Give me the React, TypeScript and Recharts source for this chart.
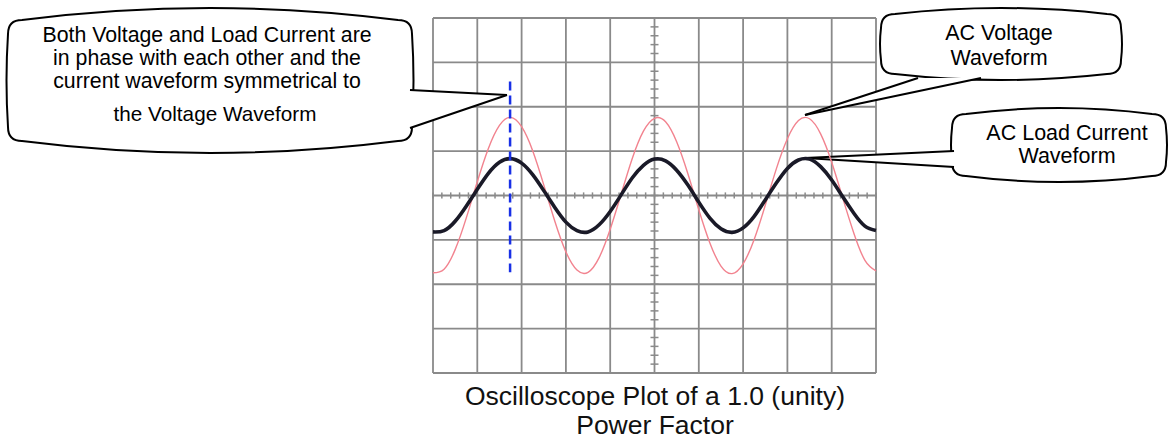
import React from 'react';
import {
  LineChart,
  Line,
  XAxis,
  YAxis,
  CartesianGrid,
  ReferenceLine,
  Customized,
} from 'recharts';

// time axis, in screen divisions (10 across)
const divs = [
  0, 0.25, 0.5, 0.75, 1, 1.25, 1.5, 1.75, 2, 2.25, 2.5, 2.75, 3, 3.25, 3.5, 3.75, 4, 4.25, 4.5, 4.75, 5,
  5.25, 5.5, 5.75, 6, 6.25, 6.5, 6.75, 7, 7.25, 7.5, 7.75, 8, 8.25, 8.5, 8.75, 9, 9.25, 9.5, 9.75, 10,
];

// pink trace, divisions from centre line
const voltage = [
  -1.74, -1.66, -1.22, -0.51, 0.31, 1.06, 1.58, 1.76, 1.55, 1.01, 0.24, -0.58, -1.27, -1.68, -1.73, -1.4,
  -0.76, 0.04, 0.84, 1.45, 1.74, 1.66, 1.21, 0.5, -0.32, -1.07, -1.59, -1.76, -1.54, -0.99, -0.22, 0.6,
  1.28, 1.69, 1.73, 1.39, 0.75, -0.06, -0.85, -1.46, -1.7,
];

// dark trace
const current = [
  -0.82, -0.79, -0.58, -0.24, 0.14, 0.5, 0.75, 0.83, 0.73, 0.47, 0.11, -0.27, -0.6, -0.79, -0.82, -0.66,
  -0.36, 0.02, 0.4, 0.68, 0.82, 0.78, 0.57, 0.24, -0.15, -0.51, -0.75, -0.83, -0.73, -0.47, -0.1, 0.28,
  0.61, 0.8, 0.82, 0.65, 0.35, -0.03, -0.4, -0.69, -0.79,
];

const xTicks = [0, 1, 2, 3, 4, 5, 6, 7, 8, 9, 10];
const yTicks = [-4, -3, -2, -1, 0, 1, 2, 3, 4];

// graticule subdivisions on the centre lines
const minorX = Array.from({ length: 51 }, (_, i) => i * 0.2);
const minorY = Array.from({ length: 41 }, (_, i) => -4 + i * 0.2);

const data = divs.map((t, i) => ({ t, v: voltage[i], c: current[i] }));

const FONT = 'Arial, "Liberation Sans", sans-serif';

function boxPath(x1: number, y1: number, x2: number, y2: number, r: number, b: number, s: number) {
  const cx = (x1 + x2) / 2;
  const cy = (y1 + y2) / 2;
  return [
    `M ${x1 + r} ${y1 + b}`,
    `Q ${cx} ${y1 - b} ${x2 - r} ${y1 + b}`,
    `Q ${x2} ${y1 + b} ${x2} ${y1 + b + r}`,
    `Q ${x2 + s} ${cy} ${x2} ${y2 - b - r}`,
    `Q ${x2} ${y2 - b} ${x2 - r} ${y2 - b}`,
    `Q ${cx} ${y2 + b} ${x1 + r} ${y2 - b}`,
    `Q ${x1} ${y2 - b} ${x1} ${y2 - b - r}`,
    `Q ${x1 - s} ${cy} ${x1} ${y1 + b + r}`,
    `Q ${x1} ${y1 + b} ${x1 + r} ${y1 + b}`,
    'Z',
  ].join(' ');
}

type P = [number, number];

function Callout({ box, a, b, tip, lines }: {
  box: [number, number, number, number, number, number, number];
  a: P;
  b: P;
  tip: P;
  lines: { text: string; x: number; y: number; size: number }[];
}) {
  const [x1, y1, x2, y2, r, bl, s] = box;
  return (
    <g>
      <path d={boxPath(x1, y1, x2, y2, r, bl, s)} fill="#fff" stroke="#000" strokeWidth={2} />
      <polygon points={`${a[0]},${a[1]} ${tip[0]},${tip[1]} ${b[0]},${b[1]}`} fill="#fff" stroke="none" />
      <line x1={a[0]} y1={a[1]} x2={tip[0]} y2={tip[1]} stroke="#000" strokeWidth={2} />
      <line x1={b[0]} y1={b[1]} x2={tip[0]} y2={tip[1]} stroke="#000" strokeWidth={2} />
      {lines.map((l) => (
        <text key={l.text} x={l.x} y={l.y} textAnchor="middle" fontFamily={FONT} fontSize={l.size} fill="#000">
          {l.text}
        </text>
      ))}
    </g>
  );
}

function Annotations() {
  return (
    <g>
      <Callout
        box={[8, 8, 412, 153, 14, 12, 3]}
        a={[410, 90]}
        b={[410, 128]}
        tip={[507, 95]}
        lines={[
          { text: 'Both Voltage and Load Current are', x: 207, y: 42, size: 21.3 },
          { text: 'in phase with each other and the', x: 207, y: 65, size: 21.3 },
          { text: 'current waveform symmetrical to', x: 207, y: 88, size: 21.3 },
          { text: 'the Voltage Waveform', x: 215, y: 121, size: 20.7 },
        ]}
      />
      <Callout
        box={[881, 8, 1121, 80, 14, 6, 2]}
        a={[918, 78]}
        b={[981, 78]}
        tip={[805, 115]}
        lines={[
          { text: 'AC Voltage', x: 999, y: 40, size: 21.5 },
          { text: 'Waveform', x: 999, y: 65, size: 21.5 },
        ]}
      />
      <Callout
        box={[952, 108, 1166, 182, 14, 6, 2]}
        a={[954, 151]}
        b={[954, 167]}
        tip={[805, 158]}
        lines={[
          { text: 'AC Load Current', x: 1067, y: 140, size: 21.5 },
          { text: 'Waveform', x: 1067, y: 163, size: 21.5 },
        ]}
      />
      <text x={655} y={405} textAnchor="middle" fontFamily={FONT} fontSize={26.5} fill="#111">
        Oscilloscope Plot of a 1.0 (unity)
      </text>
      <text x={655} y={434} textAnchor="middle" fontFamily={FONT} fontSize={26.5} fill="#111">
        Power Factor
      </text>
    </g>
  );
}

export default function App() {
  return (
    <div style={{ position: 'absolute', left: 0, top: 0, width: 1168, height: 441, background: '#fff' }}>
      <LineChart
        width={1168}
        height={441}
        data={data}
        margin={{ top: 18, right: 292, bottom: 68, left: 433 }}
      >
        <XAxis dataKey="t" type="number" domain={[0, 10]} ticks={xTicks} hide />
        <YAxis type="number" domain={[-4, 4]} ticks={yTicks} hide />
        <CartesianGrid stroke="#8a8a8a" strokeWidth={1.8} />
        {minorX.map((x) => (
          <ReferenceLine
            key={`mx${x}`}
            segment={[{ x, y: -0.07 }, { x, y: 0.07 }]}
            stroke="#8a8a8a"
            strokeWidth={1.5}
          />
        ))}
        {minorY.map((y) => (
          <ReferenceLine
            key={`my${y}`}
            segment={[{ x: 4.91, y }, { x: 5.09, y }]}
            stroke="#8a8a8a"
            strokeWidth={1.5}
          />
        ))}
        <Line
          dataKey="v"
          type="natural"
          stroke="#f2838f"
          strokeWidth={1.4}
          dot={false}
          isAnimationActive={false}
        />
        <Line
          dataKey="c"
          type="natural"
          stroke="#1a1a28"
          strokeWidth={3.6}
          dot={false}
          isAnimationActive={false}
        />
        <ReferenceLine
          segment={[{ x: 1.74, y: 2.57 }, { x: 1.74, y: -1.73 }]}
          stroke="#1830e6"
          strokeWidth={2.5}
          strokeDasharray="9 5"
        />
        <Customized component={Annotations} />
      </LineChart>
    </div>
  );
}
